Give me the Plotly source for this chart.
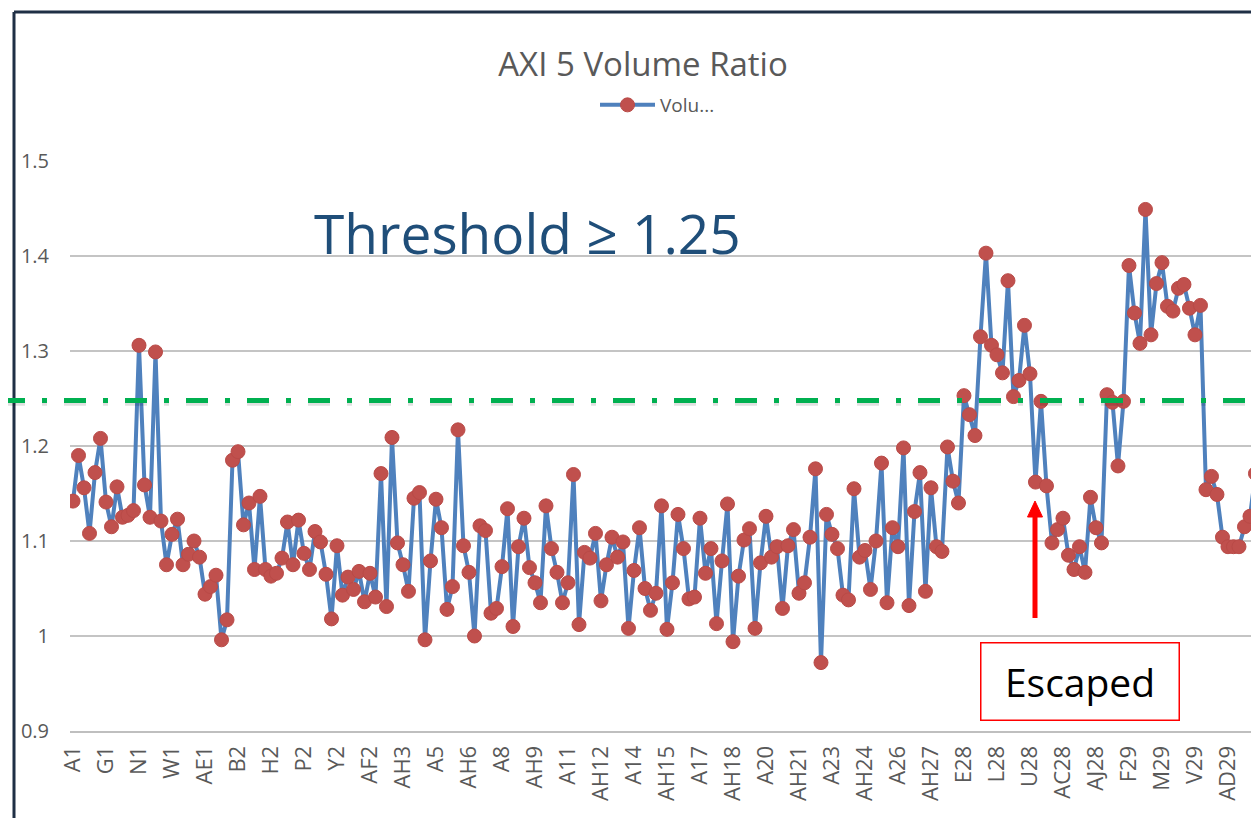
import plotly.graph_objects as go

# ---- categories (BGA-style ball names) ----
FULL_ROW = ["A", "B", "C", "D", "E", "F", "G", "H", "J", "K", "L", "M", "N", "P", "R",
            "T", "U", "V", "W", "Y", "AA", "AB", "AC", "AD", "AE", "AF", "AG", "AH", "AJ"]
EDGE_COLS = ["A", "B", "AH", "AJ"]
FULL_ROWS = [1, 2, 28, 29]
ROWS = list(range(1, 30))

categories = []
for r in ROWS:
    cols = FULL_ROW if r in FULL_ROWS else EDGE_COLS
    categories += [f"{c}{r}" for c in cols]

# ---- values ----
row1_vals = [1.142, 1.190, 1.156, 1.108, 1.172, 1.208, 1.141, 1.115, 1.157, 1.125,
             1.127, 1.132, 1.306, 1.159, 1.125, 1.299, 1.121, 1.075, 1.107, 1.123,
             1.075, 1.086, 1.100, 1.083, 1.044, 1.052, 1.064, 0.996, 1.017]
row2_vals = [1.185, 1.194, 1.117, 1.140, 1.070, 1.147, 1.070, 1.063, 1.066, 1.082,
             1.120, 1.075, 1.122, 1.087, 1.070, 1.110, 1.099, 1.065, 1.018, 1.095,
             1.043, 1.062, 1.049, 1.068, 1.036, 1.066, 1.041, 1.171, 1.031]
edge_vals = [1.209, 1.098, 1.075, 1.047, 1.145, 1.151, 0.996, 1.079, 1.144, 1.114,
             1.028, 1.052, 1.217, 1.095, 1.067, 1.000, 1.116, 1.111, 1.024, 1.029,
             1.073, 1.134, 1.010, 1.094, 1.124, 1.072, 1.056, 1.035, 1.137, 1.092,
             1.067, 1.035, 1.056, 1.170, 1.012, 1.088, 1.082, 1.108, 1.037, 1.075,
             1.104, 1.083, 1.099, 1.008, 1.069, 1.114, 1.050, 1.027, 1.045, 1.137,
             1.007, 1.056, 1.128, 1.092, 1.039, 1.041, 1.124, 1.066, 1.092, 1.013,
             1.079, 1.139, 0.994, 1.063, 1.101, 1.113, 1.008, 1.077, 1.126, 1.083,
             1.094, 1.029, 1.095, 1.112, 1.045, 1.056, 1.104, 1.176, 0.972, 1.128,
             1.107, 1.092, 1.043, 1.038, 1.155, 1.083, 1.090, 1.049, 1.100, 1.182,
             1.035, 1.114, 1.094, 1.198, 1.032, 1.131, 1.172, 1.047, 1.156, 1.094]
row28_vals = [1.089, 1.199, 1.163, 1.140, 1.253, 1.233, 1.211, 1.315, 1.403, 1.306,
              1.296, 1.277, 1.374, 1.252, 1.269, 1.327, 1.276, 1.162, 1.247, 1.158,
              1.098, 1.112, 1.124, 1.085, 1.070, 1.094, 1.067, 1.146, 1.114]
row29_vals = [1.098, 1.254, 1.246, 1.179, 1.247, 1.390, 1.340, 1.308, 1.449, 1.317,
              1.371, 1.393, 1.347, 1.342, 1.366, 1.370, 1.345, 1.317, 1.348, 1.154,
              1.168, 1.149, 1.104, 1.094, 1.094, 1.094, 1.115, 1.126, 1.171]

values = row1_vals + row2_vals + edge_vals + row28_vals + row29_vals
assert len(values) == len(categories)

tick_labels = categories[::6]
y_ticks = [0.9, 1.0, 1.1, 1.2, 1.3, 1.4, 1.5]
y_tick_text = ["0.9", "1", "1.1", "1.2", "1.3", "1.4", "1.5"]
threshold = 1.248

# ---- layout geometry: page pixels, the page body has an 8px margin ----
OFF = 8
W, H = 1259 - OFF, 818 - OFF
PLOT_LEFT, PLOT_TOP, PLOT_BOTTOM = 70, 161, 731          # page coordinates
L, T = PLOT_LEFT - OFF, PLOT_TOP - OFF
B = H - (PLOT_BOTTOM - OFF)
R = 0
PW, PH = W - L - R, H - T - B


def px(xp):
    """page x -> paper x"""
    return (xp - OFF - L) / PW


def py(yp):
    """page y -> paper y"""
    return (PLOT_BOTTOM - yp) / PH


FONT = "Open Sans"
GREY = "#595959"

fig = go.Figure()
fig.add_trace(go.Scatter(
    x=categories, y=values, mode="lines+markers", name="Volu...",
    line=dict(color="#4f81bd", width=4),
    marker=dict(color="#c0504d", size=14, line=dict(color="#b94a47", width=1)),
))

shapes = [
    # chart frame (top + left)
    dict(type="line", xref="paper", yref="paper", x0=px(14), x1=px(1270), y0=py(12), y1=py(12),
         line=dict(color="#1f2f45", width=3)),
    dict(type="line", xref="paper", yref="paper", x0=px(14), x1=px(14), y0=py(12), y1=py(830),
         line=dict(color="#1f2f45", width=3)),
    # threshold shadow + line
    dict(type="line", xref="paper", yref="y", x0=px(3), x1=px(1270), y0=threshold - 0.003,
         y1=threshold - 0.003, line=dict(color="rgba(0,0,0,0.12)", width=5,
                                         dash="22px,17px,5px,17px")),
    dict(type="line", xref="paper", yref="y", x0=px(3), x1=px(1270), y0=threshold, y1=threshold,
         line=dict(color="#00b050", width=5, dash="22px,17px,5px,17px")),
    # red arrow shaft
    dict(type="line", xref="paper", yref="paper", x0=px(1035), x1=px(1035), y0=py(618), y1=py(514),
         line=dict(color="#ff0000", width=5)),
    # arrow head
    dict(type="path", xref="paper", yref="paper",
         path=f"M {px(1027.5)} {py(517)} L {px(1035)} {py(501)} L {px(1042.5)} {py(517)} Z",
         fillcolor="#ff0000", line=dict(color="#ff0000", width=1)),
]

annotations = [
    dict(text="Threshold ≥ 1.25", xref="paper", yref="paper", x=px(527), y=py(233),
         xanchor="center", yanchor="middle", showarrow=False,
         font=dict(family=FONT, size=55, color="#1f4e79")),
    dict(text="Escaped", xref="paper", yref="paper", x=px(1080), y=py(681.5),
         xanchor="center", yanchor="middle", showarrow=False,
         width=197, height=76, borderpad=0, bordercolor="#ff0000", borderwidth=1.5,
         bgcolor="white", font=dict(family=FONT, size=39, color="black")),
]

fig.update_layout(
    width=W, height=H, margin=dict(l=L, r=R, t=T, b=B, pad=0),
    paper_bgcolor="white", plot_bgcolor="white",
    title=dict(text="AXI 5 Volume Ratio", x=(643 - OFF) / W, xref="container", xanchor="center",
               y=1 - (64 - OFF) / H, yref="container", yanchor="middle",
               font=dict(family=FONT, size=33, color=GREY)),
    showlegend=True,
    legend=dict(orientation="h", x=px(595), xanchor="left", y=py(105), yanchor="middle",
                font=dict(family=FONT, size=19, color=GREY), itemwidth=55,
                bgcolor="rgba(0,0,0,0)"),
    shapes=shapes, annotations=annotations,
    xaxis=dict(type="category", range=[-0.545, len(categories) - 1 + 0.64],
               tickmode="array", tickvals=tick_labels, ticktext=tick_labels,
               tickangle=-90, showgrid=False, showline=True, linecolor="#bfbfbf",
               linewidth=2, ticks="", ticklabelstandoff=4,
               tickfont=dict(family=FONT, size=22, color=GREY)),
    yaxis=dict(range=[0.9, 1.5], tickvals=y_ticks, ticktext=y_tick_text,
               showgrid=True, gridcolor="#c4c4c4", gridwidth=2, zeroline=False,
               showline=False, ticks="", ticklabelstandoff=20,
               tickfont=dict(family=FONT, size=20, color=GREY)),
)

fig.write_html("out.html")
